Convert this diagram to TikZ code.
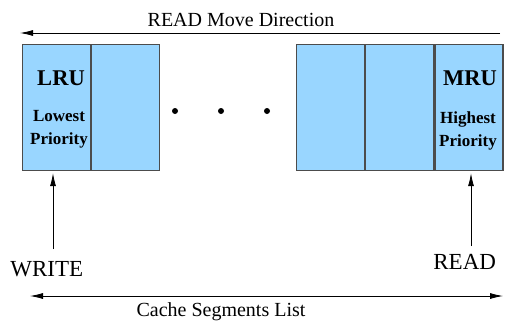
\documentclass[tikz,border=0pt]{standalone}
\usepackage{fontspec}
\setmainfont{Liberation Serif}
\usetikzlibrary{arrows.meta,positioning}
\definecolor{cellblue}{RGB}{153,214,255}

\begin{document}
\begin{tikzpicture}[
    x=1pt, y=-1pt,
    cell/.style={rectangle, draw=black!70, line width=1.2pt, fill=cellblue, minimum width=68pt, minimum height=126pt, inner sep=0pt},
    arrow/.style={-{Latex[length=13pt,width=6pt]}, line width=0.8pt},
    txt/.style={font=\fontsize{20}{24}\selectfont, inner sep=0pt, anchor=base},
    optxt/.style={font=\fontsize{23}{26}\selectfont, inner sep=0pt, anchor=base},
    tag/.style={font=\bfseries\fontsize{22.5}{26}\selectfont, inner sep=0pt, anchor=base},
    prio/.style={font=\bfseries\fontsize{17}{22.5}\selectfont, inner sep=0pt, anchor=base},
    dot/.style={circle, fill=black, minimum size=6pt, inner sep=0pt}
]
\useasboundingbox (0,0) rectangle (505,322);

% Move direction
\node[txt] (movelbl) at (241,26.7) {READ Move Direction};
\coordinate (mvstart) at (500,33);
\coordinate (mvend) at (20,33);

% Cells, left group
\node[cell, anchor=north west] (lru) at (22,44) {};
\node[cell, right=0pt of lru] (cellb) {};

% Cells, right group
\node[cell, anchor=north west] (cellc) at (296,44) {};
\node[cell, right=0pt of cellc] (celld) {};
\node[cell, right=0pt of celld] (mru) {};

% Cell texts
\node[tag] (lrulbl) at (61,85.7) {LRU};
\node[prio] (lowest) at (59,121.7) {Lowest};
\node[prio] (lowprio) at (59,144) {Priority};
\node[tag] (mrulbl) at (470,85.7) {MRU};
\node[prio] (highest) at (468,123.3) {Highest};
\node[prio] (highprio) at (468,146.7) {Priority};

% Dots
\foreach \x/\n in {175/1, 221/2, 267/3}
    \node[dot] (dot\n) at (\x,111) {};

% Operations
\node[optxt] (write) at (46.7,276.7) {WRITE};
\node[optxt] (read) at (464.7,269) {READ};
\coordinate (wfoot) at (53,249);
\coordinate (rfoot) at (471,246);

% Segments list
\node[txt] (listlbl) at (221,316.7) {Cache Segments List};
\coordinate (lsleft) at (30,296);
\coordinate (lsright) at (503,296);

% Arrows
\draw[arrow] (mvstart) -- (mvend);
\draw[arrow, shorten >=2pt] (wfoot) -- (wfoot |- lru.south);
\draw[arrow, shorten >=2pt] (rfoot) -- (rfoot |- mru.south);
\draw[arrow, {Latex[length=13pt,width=6pt]}-{Latex[length=13pt,width=6pt]}] (lsleft) -- (lsright);

\end{tikzpicture}
\end{document}
